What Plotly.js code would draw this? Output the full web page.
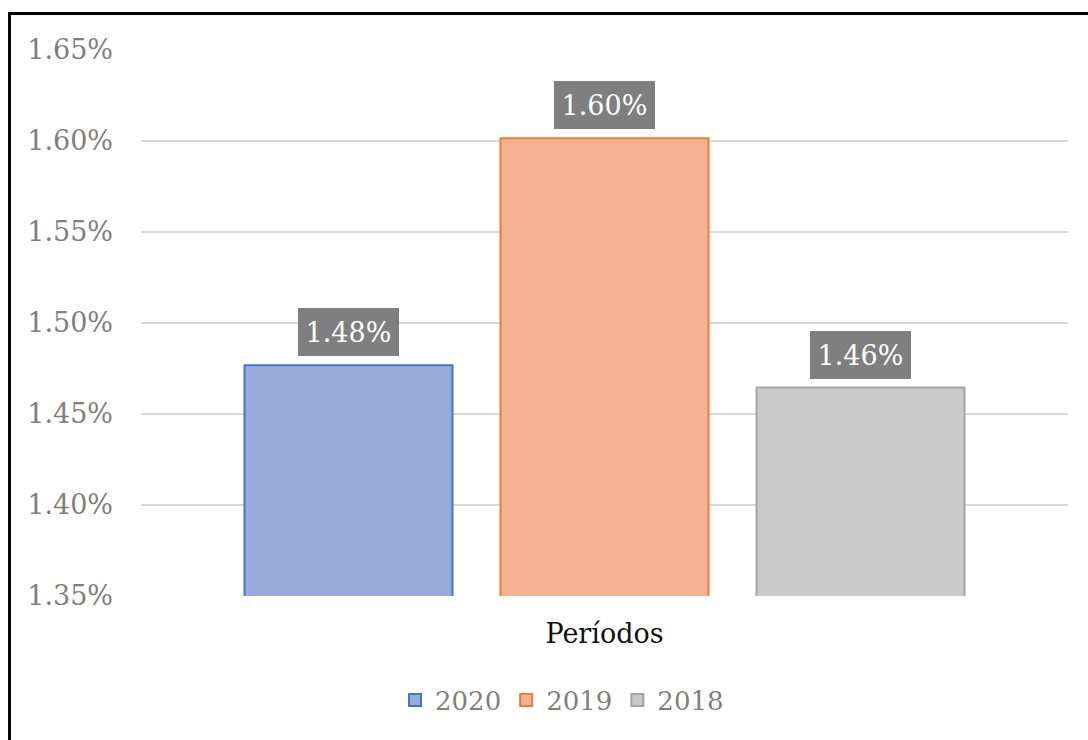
<!DOCTYPE html>
<html>
<head>
<meta charset="utf-8">
<script src="https://cdn.plot.ly/plotly-3.0.1.min.js"></script>
<style>
  html, body { margin: 0; padding: 0; background: #fff; }
  #chart { width: 1088px; height: 740px; }
</style>
</head>
<body>
<div id="chart"></div>
<script>
// ---- data ----
const category = ['Períodos'];
const seriesNames = ['2020', '2019', '2018'];
const seriesValues = [0.014768, 0.016015, 0.014645];
const yTickValues = [0.0135, 0.0140, 0.0145, 0.0150, 0.0155, 0.0160, 0.0165];

// ---- styles ----
const fills = ['#98acdc', '#f5b292', '#c9c9c9'];
const borders = ['#4472c4', '#ed7d31', '#a5a5a5'];
const FONT = 'DejaVu Serif';
const FS = 27;

const W = 1088, H = 740;
const margin = { l: 141, r: 20, t: 50, b: 144 };
const plotW = W - margin.l - margin.r;
const plotH = H - margin.t - margin.b;
const bargap = 0.1715;
const bargroupgap = 0.1875;
const slotPx = plotW * (1 - bargap) / seriesNames.length;

const traces = seriesNames.map((name, i) => ({
  type: 'bar',
  name: name,
  x: category,
  y: [seriesValues[i]],
  marker: { color: fills[i], line: { color: borders[i], width: 2 } },
  hoverinfo: 'skip'
}));

const annotations = seriesNames.map((name, i) => ({
  x: category[0],
  y: seriesValues[i],
  xref: 'x', yref: 'y',
  text: (seriesValues[i] * 100).toFixed(2) + '%',
  showarrow: false,
  xanchor: 'center', yanchor: 'bottom',
  xshift: (i - (seriesNames.length - 1) / 2) * slotPx,
  yshift: 9,
  bgcolor: '#7f7f7f',
  borderpad: 4,
  borderwidth: 0,
  width: 93,
  height: 40,
  font: { family: FONT, size: FS, color: '#ffffff' }
}));

const px2x = p => (p - margin.l) / plotW;
const py2y = p => 1 - (p - margin.t) / plotH;
const shapes = [
  { type: 'line', xref: 'paper', yref: 'paper',
    x0: px2x(9.5), x1: px2x(W + 5), y0: py2y(13.5), y1: py2y(13.5),
    line: { color: '#000', width: 3 } },
  { type: 'line', xref: 'paper', yref: 'paper',
    x0: px2x(9.5), x1: px2x(9.5), y0: py2y(12), y1: py2y(H + 5),
    line: { color: '#000', width: 3 } }
];

const layout = {
  width: W, height: H,
  margin: margin,
  font: { family: FONT },
  paper_bgcolor: '#ffffff',
  plot_bgcolor: '#ffffff',
  barmode: 'group',
  bargap: bargap,
  bargroupgap: bargroupgap,
  showlegend: true,
  legend: {
    orientation: 'h',
    x: (562 - margin.l) / plotW, xanchor: 'center',
    y: 1 - (700 - margin.t) / plotH, yanchor: 'middle',
    font: { family: FONT, size: 26, color: '#7f7f7f' },
    traceorder: 'normal',
    itemclick: false
  },
  xaxis: {
    type: 'category',
    showgrid: false,
    zeroline: false,
    showline: false,
    ticks: '',
    tickfont: { family: FONT, size: FS, color: '#111111' },
    ticklabelstandoff: 19,
    fixedrange: true
  },
  yaxis: {
    range: [0.0135, 0.0165],
    tickvals: yTickValues,
    tickformat: '.2%',
    showgrid: true,
    gridcolor: '#d9d9d9',
    gridwidth: 2,
    zeroline: false,
    showline: false,
    ticks: '',
    ticklabelstandoff: 27,
    tickfont: { family: FONT, size: FS, color: '#7f7f7f' },
    fixedrange: true
  },
  annotations: annotations,
  shapes: shapes
};

Plotly.newPlot('chart', traces, layout, { displayModeBar: false, staticPlot: true });
</script>
</body>
</html>
